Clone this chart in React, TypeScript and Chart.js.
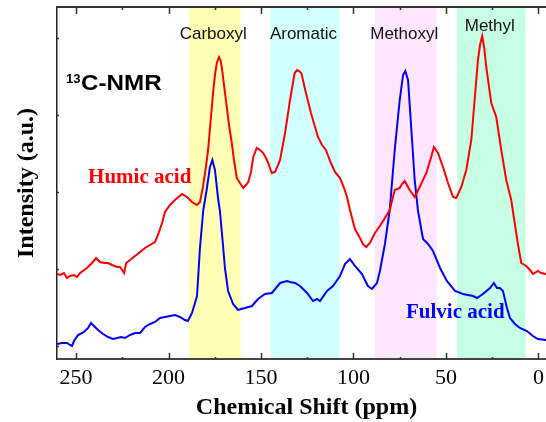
import React, { useEffect, useRef } from "react";
import { Chart, registerables } from "chart.js";

Chart.register(...registerables);

// ---- data (ppm, intensity a.u.) ----
const humicPpm = [
  260.3, 258.6, 256.5, 254.9, 253.2, 251.1, 249.5, 247.8, 244.1, 241.4, 239.2, 237, 234.9, 232.7, 230.5,
  227.8, 226.2, 225.1, 224, 222.9, 220.8, 218.1, 215.4, 212.7, 210, 207.3, 205.7, 203.5, 201.9, 199.2,
  196.5, 192.7, 190, 187.3, 184.6, 183, 181.4, 180, 178.6, 177.3, 175.9, 174.9, 173.9,
  172.7, 171.9, 171.2, 170, 168.5, 167.3, 165.8, 164.6, 163.1, 161.4, 159.6, 158.1, 156.9, 155.4, 154.2,
  152.3, 150.5, 148.8, 147.3, 146.1, 144.2, 142.4, 140.8, 139.7, 137, 134.3, 131.8, 130.5, 129.5, 128.2,
  125.7, 123, 119.2, 117, 114.9, 112.2, 110, 107.3, 105.1, 103.5, 101.9, 99.2, 96.5, 94.9, 93.2,
  91.1, 88.4, 85.7, 83, 80.4, 77.7, 75, 73.8, 72.3, 71.1, 69.6, 66.9, 64.2, 60.6, 58,
  56.5, 55.4, 54.3, 51.6, 48.9, 46.2, 44.4, 41.7, 39, 36.3, 34.5, 32.7, 31.6, 30.4, 29.3,
  28.2, 25.5, 22.8, 20.1, 17.4, 14.7, 13.8, 11.1, 9.3, 6.6, 4.6, 3, 0.3, -1.5, -4, -7.3, -9.5,
];
const humicIntensity = [
  85, 84, 86, 81, 83, 84, 82, 86, 91, 96, 101, 97, 96, 96, 94,
  92, 92, 89, 86, 96, 99, 103, 107, 111, 114, 117, 124, 136, 147, 154,
  159, 165, 162, 157, 154, 157, 172, 189, 209, 237, 266, 284, 296,
  302, 299, 292, 274, 252, 234, 216, 199, 181, 176, 171, 174, 177, 187, 202,
  211, 209, 206, 201, 196, 186, 187, 194, 199, 226, 259, 286, 289, 288, 286,
  266, 246, 222, 214, 209, 196, 187, 181, 171, 162, 149, 130, 121, 115, 112,
  116, 126, 133, 141, 149, 169, 171, 175, 178, 174, 169, 162, 172, 186, 202,
  212, 209, 206, 192, 176, 162, 161, 172, 189, 219, 259, 299, 314, 323, 311,
  292, 256, 242, 209, 179, 159, 148, 115, 96, 93, 89, 85, 88, 86, 85, 84, 84,
];

const fulvicPpm = [
  260.3, 257.6, 254.9, 253.2, 252.2, 251.1, 248.9, 245.7, 243.5, 241.9, 240.3, 238.1, 235.4, 232.7, 230,
  227.8, 225.7, 223.5, 220.8, 218.1, 215.4, 212.7, 210, 207.3, 204.6, 201.9, 199.2, 196.5, 193.8, 191.1,
  189.5, 187.3, 185.7, 184.6, 183, 181.2, 179.4, 177.6, 176.3, 174.9, 173.1, 172.2, 170.8, 169.5, 167.8,
  165.1, 162.4, 160.8, 158.6, 154.9, 151.6, 147.8, 144.1, 139.7, 135.9, 134.3, 131.6, 128.9, 125.1, 121.9,
  119.7, 118.1, 114.3, 111.1, 107.3, 104.6, 101.9, 99.2, 95.4, 92.2, 90, 87.3, 85.7, 83, 80.4,
  77.7, 75, 73.2, 72, 70.5, 68.8, 66.9, 65.1, 62.4, 59.7, 57, 53.2, 49.5, 45.1, 40.8,
  35.4, 33.2, 30, 26.2, 24.1, 22.4, 20.8, 19.2, 17, 15.4, 12.7, 10, 6.2, 3, 0.3, -4, -9.5,
];
const fulvicIntensity = [
  15, 16, 16, 14, 13, 18, 24, 27, 31, 36, 33, 29, 25, 22, 20,
  21, 22, 21, 24, 26, 26, 32, 35, 37, 41, 42, 43, 44, 42, 39,
  38, 46, 56, 63, 111, 149, 169, 192, 199, 189, 159, 148, 119, 91, 68,
  55, 49, 50, 51, 53, 60, 65, 66, 76, 78, 77, 76, 73, 66, 58,
  60, 58, 68, 73, 83, 95, 100, 93, 85, 73, 70, 76, 88, 115, 149,
  209, 259, 284, 288, 279, 232, 179, 148, 120, 115, 108, 91, 78, 68, 65,
  63, 61, 65, 71, 76, 71, 71, 68, 51, 41, 35, 31, 28, 23, 20, 19, 17,
];

const xMajorTicks = [250, 200, 150, 100, 50, 0];
const xMinorTicks = [225, 175, 125, 75, 25];
const yMarks = [13, 90, 167, 244, 321];

const regionNames = ["Carboxyl", "Aromatic", "Methoxyl", "Methyl"];
const regionFrom = [189, 145, 88.5, 44];
const regionTo = [161, 107.5, 55, 7];
const regionColors = ["#FFFFB6", "#D2FFFF", "#FFE6FF", "#C6FFE4"];

const SERIF = '"Liberation Serif", "Times New Roman", serif';
const SANS = '"Liberation Sans", Arial, sans-serif';

const bandsPlugin = {
  id: "bands",
  beforeDraw(chart: any) {
    const { ctx, chartArea: a, scales } = chart;
    const x = scales.x;
    ctx.save();
    regionFrom.forEach((f, i) => {
      const x1 = x.getPixelForValue(f);
      const x2 = x.getPixelForValue(regionTo[i]);
      ctx.fillStyle = regionColors[i];
      ctx.fillRect(Math.min(x1, x2), a.top, Math.abs(x2 - x1), a.bottom - a.top);
    });
    ctx.restore();
  },
};

const textPlugin = {
  id: "texts",
  afterDatasetsDraw(chart: any) {
    const { ctx, chartArea: a, scales } = chart;
    const x = scales.x;
    const y = scales.y;
    ctx.save();
    // region labels
    ctx.font = `17px ${SANS}`;
    ctx.fillStyle = "#111";
    ctx.textAlign = "center";
    ctx.textBaseline = "alphabetic";
    regionNames.forEach((name, i) => {
      const cx = (x.getPixelForValue(regionFrom[i]) + x.getPixelForValue(regionTo[i])) / 2 - 1.5;
      const by = i === 3 ? a.top + 24 : a.top + 32;
      ctx.fillText(name, cx, by);
    });
    // 13C-NMR
    ctx.textAlign = "left";
    ctx.fillStyle = "#000";
    ctx.font = `bold 13px ${SANS}`;
    ctx.fillText("13", x.getPixelForValue(255.4), y.getPixelForValue(276.5));
    ctx.save();
    ctx.translate(x.getPixelForValue(247.3), y.getPixelForValue(269));
    ctx.scale(1.1, 1);
    ctx.font = `bold 22px ${SANS}`;
    ctx.fillText("C-NMR", 0, 0);
    ctx.restore();
    // series labels
    ctx.font = `bold 21px ${SERIF}`;
    ctx.fillStyle = "#FF0000";
    ctx.fillText("Humic acid", x.getPixelForValue(243.5), y.getPixelForValue(176));
    ctx.fillStyle = "#0000FF";
    ctx.fillText("Fulvic acid", x.getPixelForValue(71.6), y.getPixelForValue(41));
    ctx.restore();
  },
};

const framePlugin = {
  id: "frame",
  afterDraw(chart: any) {
    const { ctx, chartArea: a, scales } = chart;
    const x = scales.x;
    const y = scales.y;
    ctx.save();
    ctx.strokeStyle = "#333";
    ctx.lineWidth = 2;
    ctx.beginPath();
    ctx.moveTo(a.left - 1, a.top);
    ctx.lineTo(a.right, a.top);
    ctx.stroke();
    ctx.lineWidth = 1.5;
    const drawTick = (v: number, len: number) => {
      const px = Math.round(x.getPixelForValue(v)) + 0.5;
      ctx.beginPath();
      ctx.moveTo(px, a.bottom);
      ctx.lineTo(px, a.bottom - len);
      ctx.moveTo(px, a.top);
      ctx.lineTo(px, a.top + len + 1);
      ctx.stroke();
    };
    xMajorTicks.forEach((v) => drawTick(v, 6));
    xMinorTicks.forEach((v) => drawTick(v, 2));
    yMarks.forEach((v) => {
      const py = Math.round(y.getPixelForValue(v)) + 0.5;
      ctx.beginPath();
      ctx.moveTo(a.left, py);
      ctx.lineTo(a.left + 2, py);
      ctx.stroke();
    });
    ctx.restore();
  },
};

export default function App() {
  const canvasRef = useRef<HTMLCanvasElement | null>(null);

  useEffect(() => {
    if (!canvasRef.current) return;
    const chart = new Chart(canvasRef.current, {
      type: "line",
      data: {
        datasets: [
          {
            label: "Humic acid",
            data: humicPpm.map((p, i) => ({ x: p, y: humicIntensity[i] })),
            borderColor: "#FF0000",
            borderWidth: 2,
            pointRadius: 0,
            tension: 0,
            fill: false,
          },
          {
            label: "Fulvic acid",
            data: fulvicPpm.map((p, i) => ({ x: p, y: fulvicIntensity[i] })),
            borderColor: "#0000FF",
            borderWidth: 2,
            pointRadius: 0,
            tension: 0,
            fill: false,
          },
        ],
      },
      options: {
        responsive: false,
        animation: false,
        devicePixelRatio: 1,
        layout: { padding: { top: 7, left: 0, right: 0, bottom: 0 } },
        plugins: {
          legend: { display: false },
          tooltip: { enabled: false },
        },
        scales: {
          x: {
            type: "linear",
            reverse: true,
            min: -9.5,
            max: 260.3,
            afterBuildTicks: (scale: any) => {
              scale.ticks = xMajorTicks.map((v) => ({ value: v }));
            },
            afterFit: (scale: any) => {
              scale.height = 63;
            },
            grid: { display: false, drawTicks: false },
            border: { display: true, color: "#444", width: 2 },
            ticks: {
              padding: 6,
              maxRotation: 0,
              autoSkip: false,
              color: "#000",
              font: { family: SERIF, size: 22 },
            },
            title: {
              display: true,
              text: "Chemical Shift (ppm)",
              color: "#000",
              font: { family: SERIF, size: 24, weight: "bold" },
              padding: { top: 0, bottom: 0 },
            },
          },
          y: {
            type: "linear",
            min: 0,
            max: 352,
            afterFit: (scale: any) => {
              scale.width = 57;
            },
            grid: { display: false, drawTicks: false },
            border: { display: true, color: "#222", width: 1.5 },
            ticks: { display: false },
            title: {
              display: true,
              text: "Intensity (a.u.)",
              color: "#000",
              font: { family: SERIF, size: 24, weight: "bold" },
              padding: { top: 12, bottom: 0 },
            },
          },
        },
      },
      plugins: [bandsPlugin, textPlugin, framePlugin],
    });
    return () => chart.destroy();
  }, []);

  return (
    <div
      style={{
        position: "absolute",
        left: 0,
        top: 0,
        width: 546,
        height: 422,
        overflow: "hidden",
        background: "#fff",
      }}
    >
      <canvas ref={canvasRef} width={556} height={422} style={{ display: "block" }} />
    </div>
  );
}
